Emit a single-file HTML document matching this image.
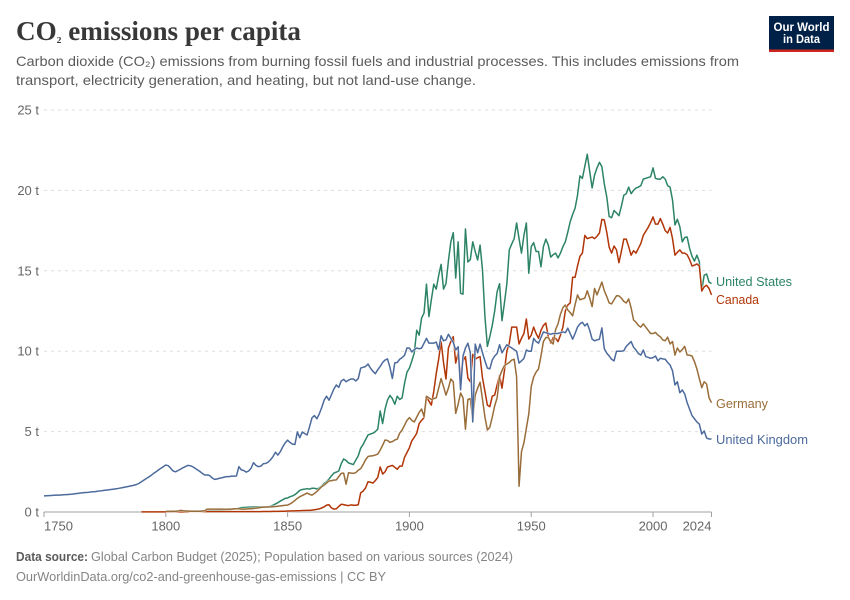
<!DOCTYPE html>
<html lang="en">
<head>
<meta charset="utf-8">
<title>CO₂ emissions per capita</title>
<style>
  html, body { margin: 0; padding: 0; background: #fff; }
  svg { display: block; font-family: "Liberation Sans", sans-serif; }
</style>
</head>
<body>
<svg id="chart" xmlns="http://www.w3.org/2000/svg" width="850" height="600" viewBox="0 0 850 600">
  <rect x="0" y="0" width="850" height="600" fill="#ffffff"/>
  <text x="16" y="40" font-family="'Liberation Serif', serif" font-weight="700" font-size="27" fill="#383838" textLength="285" lengthAdjust="spacingAndGlyphs">CO<tspan font-size="16">₂</tspan> emissions per capita</text>
  <text x="16" y="66" font-size="14" fill="#5b5b5b" textLength="723" lengthAdjust="spacingAndGlyphs">Carbon dioxide (CO₂) emissions from burning fossil fuels and industrial processes. This includes emissions from</text>
  <text x="16" y="85" font-size="14" fill="#5b5b5b" textLength="460" lengthAdjust="spacingAndGlyphs">transport, electricity generation, and heating, but not land-use change.</text>

  <g>
    <rect x="769" y="16" width="65" height="36" fill="#002147"/>
    <rect x="769" y="49.5" width="65" height="2.5" fill="#ce261e"/>
    <text x="801.5" y="31" text-anchor="middle" font-size="11.5" font-weight="700" fill="#ffffff" textLength="56" lengthAdjust="spacingAndGlyphs">Our World</text>
    <text x="801.5" y="43" text-anchor="middle" font-size="11.5" font-weight="700" fill="#ffffff" textLength="37" lengthAdjust="spacingAndGlyphs">in Data</text>
  </g>

  <g id="grid"></g>
  <g id="yticks"></g>
  <g id="xaxis"></g>
  <g id="series"></g>
  <g id="labels"></g>

  <text x="16" y="561" font-size="13" font-weight="700" fill="#5b5b5b" textLength="72" lengthAdjust="spacingAndGlyphs">Data source:</text>
  <text x="91" y="561" font-size="13" fill="#858585" textLength="422" lengthAdjust="spacingAndGlyphs">Global Carbon Budget (2025); Population based on various sources (2024)</text>
  <text x="16" y="581" font-size="13" fill="#858585" textLength="370" lengthAdjust="spacingAndGlyphs">OurWorldinData.org/co2-and-greenhouse-gas-emissions | CC BY</text>
</svg>

<script>
const yTicks = [0, 5, 10, 15, 20, 25];
const xTicks = [1750, 1800, 1850, 1900, 1950, 2000, 2024];

const usStart = 1800;
const usValues = [
0.04,0.04,0.05,0.05,0.05,0.05,0.05,0.05,0.06,0.06,
0.06,0.06,0.06,0.07,0.07,0.07,0.08,0.08,0.08,0.09,
0.09,0.10,0.10,0.11,0.12,0.13,0.14,0.16,0.18,0.20,
0.25,0.27,0.28,0.29,0.30,0.30,0.31,0.31,0.32,0.32,
0.33,0.33,0.33,0.36,0.42,0.50,0.58,0.68,0.76,0.85,
0.87,0.95,1.00,1.08,1.20,1.35,1.40,1.42,1.45,1.42,
1.48,1.48,1.43,1.50,1.62,1.78,1.88,2.05,2.25,2.42,
2.48,2.55,3.00,3.30,3.20,3.05,3.00,2.95,3.23,3.50,
3.97,4.20,4.50,4.79,4.85,4.90,5.00,5.15,6.28,5.50,
6.40,6.96,7.25,7.05,6.70,7.20,7.00,7.10,8.00,8.70,
8.95,9.40,9.90,11.30,11.00,12.07,12.37,14.17,12.15,13.20,
14.17,13.86,14.70,15.40,13.86,14.20,15.60,16.80,17.37,14.55,
16.80,13.60,13.55,17.60,15.55,15.70,16.80,16.20,15.67,16.60,
15.05,12.15,10.30,10.90,11.60,12.50,13.70,14.20,11.90,13.00,
14.20,16.30,16.67,17.00,17.97,17.00,16.10,17.20,17.97,14.85,
16.50,16.75,16.20,16.20,15.25,16.50,16.97,16.60,15.85,16.00,
16.10,15.80,16.10,16.50,16.80,17.40,18.05,18.50,18.90,19.70,
20.90,20.75,21.50,22.25,21.20,20.15,20.96,21.40,21.75,21.47,
20.40,19.60,18.37,18.30,18.75,18.60,18.43,19.00,19.70,19.80,
20.20,19.80,20.00,20.15,20.20,20.30,20.70,20.75,20.80,20.85,
21.40,20.75,20.70,20.70,20.85,20.70,20.30,20.20,19.40,17.85,
18.20,17.74,16.80,17.07,17.10,16.40,15.90,15.60,15.97,15.57,
13.80,14.73,14.80,14.30,14.20
];

const canadaStart = 1790;
const canadaValues = [
0.01,0.01,0.01,0.01,0.01,0.01,0.01,0.01,0.01,0.01,
0.01,0.01,0.01,0.01,0.01,0.01,0.01,0.01,0.01,0.01,
0.02,0.02,0.02,0.02,0.02,0.02,0.02,0.02,0.02,0.02,
0.02,0.02,0.02,0.02,0.02,0.02,0.02,0.02,0.02,0.02,
0.02,0.02,0.02,0.02,0.02,0.02,0.02,0.02,0.02,0.02,
0.03,0.03,0.03,0.03,0.04,0.04,0.04,0.05,0.05,0.05,
0.06,0.06,0.07,0.07,0.08,0.08,0.09,0.09,0.10,0.10,
0.12,0.14,0.16,0.20,0.25,0.32,0.43,0.45,0.25,0.18,
0.20,0.35,0.48,0.46,0.42,0.40,0.44,0.42,0.42,0.45,
1.20,1.30,1.50,1.88,1.85,1.80,1.95,2.15,2.80,2.36,
2.50,2.80,2.85,2.90,2.78,2.66,2.85,2.85,3.40,3.70,
4.00,4.43,4.65,4.90,5.50,5.70,5.87,7.15,6.90,6.65,
7.50,8.60,9.50,10.60,9.30,8.27,10.20,10.60,10.90,9.26,
9.90,8.50,9.40,9.66,8.33,8.10,9.80,9.50,9.60,9.66,
8.33,7.50,6.65,6.55,7.20,7.27,7.90,8.50,7.70,8.80,
10.00,10.50,11.50,11.50,11.50,10.45,10.80,11.10,12.00,10.76,
11.00,11.50,11.10,10.80,11.30,11.60,11.75,10.90,10.50,10.85,
10.80,10.60,11.00,11.50,12.50,12.87,13.00,14.60,14.60,15.30,
15.90,16.10,17.20,17.00,17.05,17.10,17.00,17.15,17.35,18.20,
18.16,17.40,16.47,16.10,16.54,16.30,15.50,16.20,16.97,16.97,
16.50,15.97,16.25,16.10,16.40,16.70,17.20,17.45,17.70,18.00,
18.35,17.90,17.90,18.25,17.90,17.50,17.35,17.70,17.00,15.97,
16.15,16.30,16.10,16.10,16.00,15.70,15.30,15.35,15.43,15.30,
13.74,14.00,14.10,13.90,13.50
];

const germanyStart = 1800;
const germanyValues = [
0.04,0.04,0.05,0.05,0.05,0.06,0.10,0.08,0.06,0.06,
0.05,0.05,0.05,0.05,0.05,0.06,0.08,0.18,0.18,0.18,
0.18,0.18,0.18,0.18,0.17,0.17,0.18,0.18,0.20,0.20,
0.20,0.18,0.18,0.19,0.20,0.20,0.22,0.24,0.26,0.28,
0.30,0.30,0.31,0.32,0.33,0.34,0.36,0.38,0.40,0.42,
0.43,0.50,0.60,0.72,0.85,0.95,1.02,1.10,1.18,1.10,
1.05,1.15,1.28,1.42,1.58,1.68,1.80,1.93,1.95,1.98,
2.00,2.20,2.40,2.42,1.73,2.44,2.42,2.40,2.45,2.60,
2.70,2.95,3.25,3.45,3.48,3.50,3.54,3.60,3.85,4.15,
4.48,4.45,4.33,4.38,4.48,4.53,4.90,5.10,5.40,5.70,
5.87,5.70,5.60,5.90,6.20,6.40,5.93,7.20,7.10,7.00,
7.05,7.10,7.70,8.30,7.80,7.27,7.70,8.27,8.10,6.13,
6.70,7.40,7.10,5.15,7.00,7.05,5.70,7.27,7.70,8.07,
7.00,5.90,5.10,5.27,5.90,6.60,7.10,8.40,8.80,9.10,
9.20,9.30,9.45,9.50,8.40,1.60,3.75,4.30,5.20,6.10,
7.80,8.40,8.70,8.90,9.70,10.60,10.85,10.85,10.60,10.45,
11.35,11.70,12.30,12.70,12.87,12.56,12.40,12.20,12.90,13.50,
13.20,13.25,13.30,13.76,13.30,12.77,13.90,13.50,13.90,14.30,
13.76,13.40,13.00,12.94,13.20,13.45,13.44,13.30,13.10,13.00,
13.25,12.70,11.94,11.80,11.60,11.50,11.70,11.50,11.30,11.10,
11.10,11.17,11.00,10.90,10.70,10.65,10.87,10.45,10.60,9.76,
10.20,9.95,10.10,10.30,9.76,9.75,9.70,9.35,8.90,8.30,
7.73,8.10,7.96,7.10,6.80
];

const ukStart = 1750;
const ukValues = [
1.00,1.01,1.02,1.03,1.04,1.05,1.05,1.06,1.07,1.08,
1.09,1.10,1.12,1.14,1.16,1.18,1.20,1.21,1.22,1.24,
1.26,1.27,1.29,1.31,1.33,1.35,1.37,1.39,1.41,1.43,
1.45,1.48,1.51,1.54,1.57,1.60,1.63,1.67,1.71,1.78,
1.88,1.98,2.08,2.18,2.28,2.40,2.50,2.62,2.72,2.82,
2.92,2.88,2.72,2.55,2.50,2.58,2.66,2.75,2.82,2.90,
2.88,2.82,2.72,2.62,2.52,2.40,2.30,2.30,2.27,2.12,
2.03,2.05,2.10,2.13,2.17,2.20,2.20,2.23,2.23,2.24,
2.82,2.62,2.58,2.48,2.55,2.72,3.07,2.90,2.82,2.85,
3.00,3.02,3.10,3.25,3.45,3.72,3.54,3.75,4.05,4.30,
4.47,4.32,4.22,4.20,4.98,4.62,4.97,4.88,4.79,5.30,
5.85,6.00,5.80,6.10,6.50,6.96,7.20,6.95,7.30,7.65,
7.90,7.75,8.15,8.25,8.10,8.20,8.27,8.27,8.15,8.30,
8.95,9.00,9.05,9.20,8.95,8.75,8.60,8.85,9.05,9.30,
9.45,9.52,9.00,8.30,9.28,9.30,9.50,9.60,9.75,10.20,
10.20,9.95,10.10,10.20,10.15,10.20,10.50,10.80,10.50,10.50,
10.50,10.57,10.10,10.96,10.65,10.70,11.05,10.80,10.55,10.07,
10.28,7.60,9.70,10.20,10.50,9.90,5.60,10.44,9.90,10.44,
9.90,9.40,8.95,8.90,9.45,9.70,9.85,10.40,9.90,10.15,
10.40,10.30,10.20,10.10,10.00,9.26,9.40,9.55,10.07,10.00,
10.00,10.80,10.60,10.50,10.85,11.20,11.15,11.10,11.05,11.10,
11.10,11.10,11.15,11.20,11.15,11.43,11.10,10.75,11.10,11.50,
11.70,11.80,11.57,11.72,11.30,10.75,10.65,10.70,10.75,11.45,
10.15,9.88,9.70,9.50,9.40,10.00,10.00,10.00,10.03,10.30,
10.45,10.60,10.25,10.07,9.85,9.76,10.07,9.66,9.62,9.56,
9.60,9.70,9.40,9.56,9.52,9.50,9.30,9.14,8.78,7.90,
8.10,7.42,7.59,7.34,6.80,6.40,6.00,5.80,5.60,5.47,
4.85,5.04,4.60,4.54,4.54
];

const NS = 'http://www.w3.org/2000/svg';
const plot = { left: 44, right: 711.5, top: 110, bottom: 512 };
const xDomain = [1750, 2024];
const yDomain = [0, 25];

function xScale(year) {
  return plot.left + (year - xDomain[0]) / (xDomain[1] - xDomain[0]) * (plot.right - plot.left);
}
function yScale(value) {
  return plot.bottom - (value - yDomain[0]) / (yDomain[1] - yDomain[0]) * (plot.bottom - plot.top);
}
function make(tag, attrs, parent, text) {
  const el = document.createElementNS(NS, tag);
  for (const key in attrs) el.setAttribute(key, attrs[key]);
  if (text !== undefined) el.textContent = text;
  parent.appendChild(el);
  return el;
}
function linePath(start, values) {
  return values.map(function (v, i) {
    return (i ? 'L' : 'M') + xScale(start + i).toFixed(2) + ' ' + yScale(v).toFixed(2);
  }).join('');
}

const gridGroup = document.getElementById('grid');
const yTickGroup = document.getElementById('yticks');
yTicks.forEach(function (t) {
  if (t !== 0) {
    const line = make('line', { x1: plot.left, x2: plot.right, y1: yScale(t), y2: yScale(t), stroke: '#dddddd', 'stroke-width': 1, 'stroke-dasharray': '3,4' }, gridGroup);
    
    
  }
  const label = make('text', { x: 39, y: yScale(t) + 4.5, 'text-anchor': 'end', 'font-size': 13, fill: '#666666' }, yTickGroup, t + ' t');
  
  
});

const xGroup = document.getElementById('xaxis');
const axisLine = make('line', { x1: plot.left, x2: plot.right, y1: plot.bottom, y2: plot.bottom, stroke: '#a1a1a1', 'stroke-width': 1 }, xGroup);


xTicks.forEach(function (year, i) {
  const x = xScale(year);
  const tick = make('line', { x1: x, x2: x, y1: plot.bottom, y2: plot.bottom + 5, stroke: '#a1a1a1', 'stroke-width': 1 }, xGroup);
  
  
  const anchor = i === 0 ? 'start' : (i === xTicks.length - 1 ? 'end' : 'middle');
  const label = make('text', { x: x, y: plot.bottom + 18.5, 'text-anchor': anchor, 'font-size': 13, fill: '#666666' }, xGroup, String(year));
  
  
});

const seriesGroup = document.getElementById('series');
const labelGroup = document.getElementById('labels');
function drawSeries(slug, start, values, color) {
  const halo = make('path', { d: linePath(start, values), fill: 'none', stroke: '#ffffff', 'stroke-width': 2.5, 'stroke-opacity': 0.75, 'stroke-linejoin': 'round' }, seriesGroup);
  
  
  const line = make('path', { d: linePath(start, values), fill: 'none', stroke: color, 'stroke-width': 1.5, 'stroke-linejoin': 'round' }, seriesGroup);
  
  
}
function drawLabel(slug, name, color, y, width) {
  const label = make('text', { x: 716, y: y, 'font-size': 13, fill: color, textLength: width, lengthAdjust: 'spacingAndGlyphs' }, labelGroup, name);
  
  
}

drawSeries('united-states', usStart, usValues, '#2c8465');
drawSeries('canada', canadaStart, canadaValues, '#b13507');
drawSeries('germany', germanyStart, germanyValues, '#996d39');
drawSeries('united-kingdom', ukStart, ukValues, '#4c6a9c');

drawLabel('united-states', 'United States', '#2c8465', 286, 76);
drawLabel('canada', 'Canada', '#b13507', 304, 43);
drawLabel('germany', 'Germany', '#996d39', 408, 52);
drawLabel('united-kingdom', 'United Kingdom', '#4c6a9c', 444, 92);
</script>
</body>
</html>
